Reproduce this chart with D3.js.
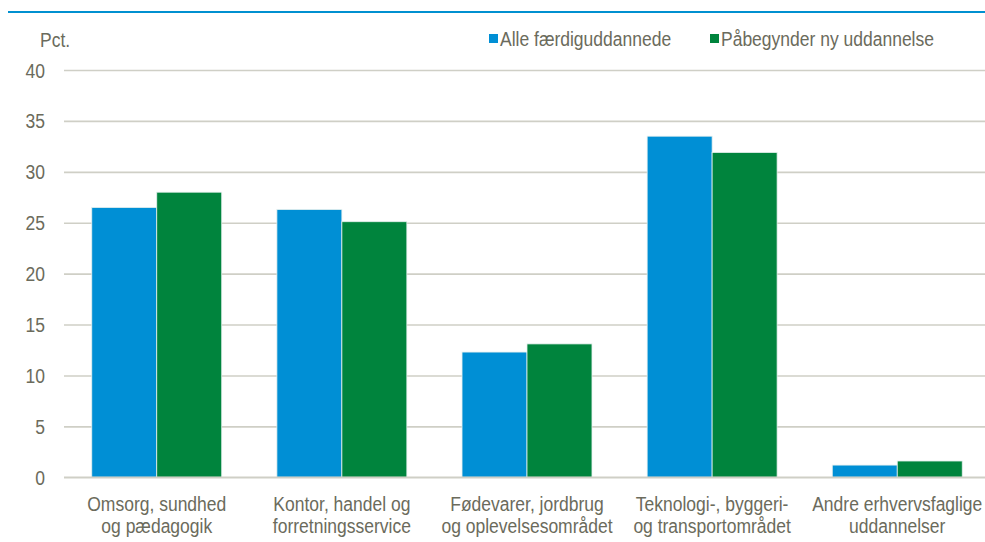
<!DOCTYPE html>
<html><head><meta charset="utf-8">
<script src="https://cdn.jsdelivr.net/npm/d3@7"></script>
<style>body{margin:0;background:#fff}svg{display:block}</style>
</head><body>
<script>
const categories = [
  ["Omsorg, sundhed","og pædagogik"],
  ["Kontor, handel og","forretningsservice"],
  ["Fødevarer, jordbrug","og oplevelsesområdet"],
  ["Teknologi-, byggeri-","og transportområdet"],
  ["Andre erhvervsfaglige","uddannelser"]
];
const seriesNames = ["Alle færdiguddannede","Påbegynder ny uddannelse"];
const alleFaerdig = [26.5, 26.3, 12.3, 33.5, 1.2];
const paabegynder = [28.0, 25.1, 13.1, 31.9, 1.6];
const yTicks = [0,5,10,15,20,25,30,35,40];
const colors = ["#008fd5","#00843d"];

const W=985,H=542;
const font = "'Liberation Sans',Arial,sans-serif";
const textColor = "#6b6b5c";
const SX = 0.875;
const svg = d3.select("body").append("svg").attr("width",W).attr("height",H);

function ctext(parent, x, y, str, anchor){
  return parent.append("text")
    .attr("transform",`translate(${x},${y}) scale(${SX},1)`)
    .attr("text-anchor",anchor||"start")
    .attr("fill",textColor).attr("font-family",font).attr("font-size",20)
    .text(str);
}

// top rule
svg.append("line").attr("x1",8).attr("x2",W).attr("y1",12).attr("y2",12)
  .attr("stroke","#0090d0").attr("stroke-width",2.2);

const y = d3.scaleLinear().domain([0,40]).range([477.3,70]);
const x0 = d3.scaleBand().domain(d3.range(categories.length)).range([64,990]).paddingInner(0.298).paddingOuter(0.15);
const x1 = d3.scaleBand().domain([0,1]).range([0,x0.bandwidth()]);

// gridlines
const grid = d3.axisLeft(y).tickValues(yTicks).tickSize(-(W-64)).tickFormat("");
svg.append("g").attr("transform","translate(64,0)").call(grid)
  .call(g=>g.select(".domain").remove())
  .call(g=>g.selectAll("line").attr("stroke","#cfcfc6").attr("stroke-width",1.6));

// y labels
const yAxis = d3.axisLeft(y).tickValues(yTicks).tickSize(0).tickPadding(0);
svg.append("g").attr("transform","translate(45,0)").call(yAxis)
  .call(g=>g.select(".domain").remove())
  .call(g=>g.selectAll(".tick text").attr("fill",textColor).attr("font-family",font).attr("font-size",20)
     .attr("dy","0.35em").attr("x",null).attr("transform",`scale(${SX},1)`));

ctext(svg, 40, 47, "Pct.");

// bars
const series = [alleFaerdig, paabegynder];
series.forEach((vals,si)=>{
  svg.append("g").selectAll("rect").data(vals).join("rect")
    .attr("x",(d,i)=>x0(i)+x1(si))
    .attr("width",x1.bandwidth())
    .attr("y",d=>y(d))
    .attr("height",d=>y(0)-y(d))
    .attr("fill",colors[si])
    .attr("stroke","#e6f0ee").attr("stroke-width",0.8);
});

// baseline
svg.append("line").attr("x1",64).attr("x2",W).attr("y1",y(0)).attr("y2",y(0))
  .attr("stroke","#cfcfc6").attr("stroke-width",1.6);

// category labels
const cat = svg.append("g");
categories.forEach((lines,i)=>{
  lines.forEach((l,j)=>{
    ctext(cat, x0(i)+x0.bandwidth()/2, 511+j*22, l, "middle");
  });
});

// legend
const legX = [489, 710];
seriesNames.forEach((n,i)=>{
  svg.append("rect").attr("x",legX[i]).attr("y",34).attr("width",9).attr("height",9).attr("fill",colors[i]);
  ctext(svg, legX[i]+11, 46, n);
});
</script>
</body></html>
